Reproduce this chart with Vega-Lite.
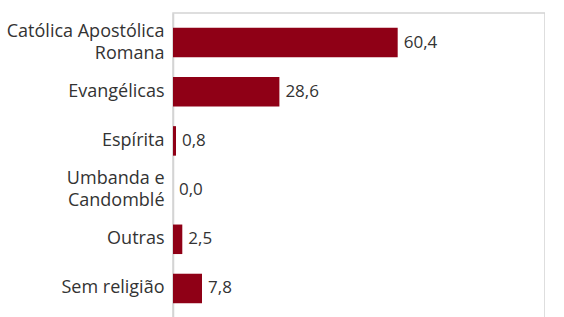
{
  "$schema": "https://vega.github.io/schema/vega-lite/v6.json",
  "autosize": {"type": "none"},
  "width": 372,
  "height": 305,
  "padding": {"left": 173, "top": 13, "right": 0, "bottom": 0},
  "background": "white",
  "config": {
    "locale": {"number": {"decimal": ",", "thousands": ".", "grouping": [3], "currency": ["R$", ""]}},
    "view": {"stroke": "#d4d4d4", "strokeWidth": 1.5},
    "font": "Open Sans"
  },
  "data": {
    "values": [
      {"religiao": "Católica Apostólica|Romana", "pct": 60.4},
      {"religiao": "Evangélicas", "pct": 28.6},
      {"religiao": "Espírita", "pct": 0.8},
      {"religiao": "Umbanda e|Candomblé", "pct": 0.0},
      {"religiao": "Outras", "pct": 2.5},
      {"religiao": "Sem religião", "pct": 7.8}
    ]
  },
  "encoding": {
    "y": {
      "field": "religiao",
      "type": "nominal",
      "sort": null,
      "scale": {"paddingInner": 0.4, "paddingOuter": 0.3},
      "axis": {
        "title": null,
        "labelExpr": "split(datum.label, '|')",
        "labelFontSize": 18,
        "labelColor": "#333333",
        "labelLineHeight": 22,
        "labelPadding": 9,
        "labelOverlap": false,
        "labelOffset": {"condition": {"test": "indexof(datum.value, '|') >= 0", "value": -11}, "value": 0},
        "ticks": false,
        "domainColor": "#d4d4d4",
        "domainWidth": 1.5,
        "labelLimit": 200
      }
    },
    "x": {
      "field": "pct",
      "type": "quantitative",
      "scale": {"domain": [0, 100], "nice": false},
      "axis": {
        "title": "%",
        "labels": false,
        "ticks": false,
        "domain": false,
        "grid": false,
        "titleFontSize": 14,
        "titleFontWeight": "normal",
        "titleColor": "#333333",
        "titleAnchor": "start",
        "titleAlign": "left",
        "titleBaseline": "top",
        "titleX": 378,
        "titleY": -11
      }
    }
  },
  "layer": [
    {"mark": {"type": "bar", "color": "#8f0016"}},
    {
      "mark": {"type": "text", "align": "left", "dx": 6, "fontSize": 17, "color": "#333333"},
      "encoding": {"text": {"field": "pct", "type": "quantitative", "format": ".1f"}}
    }
  ]
}
